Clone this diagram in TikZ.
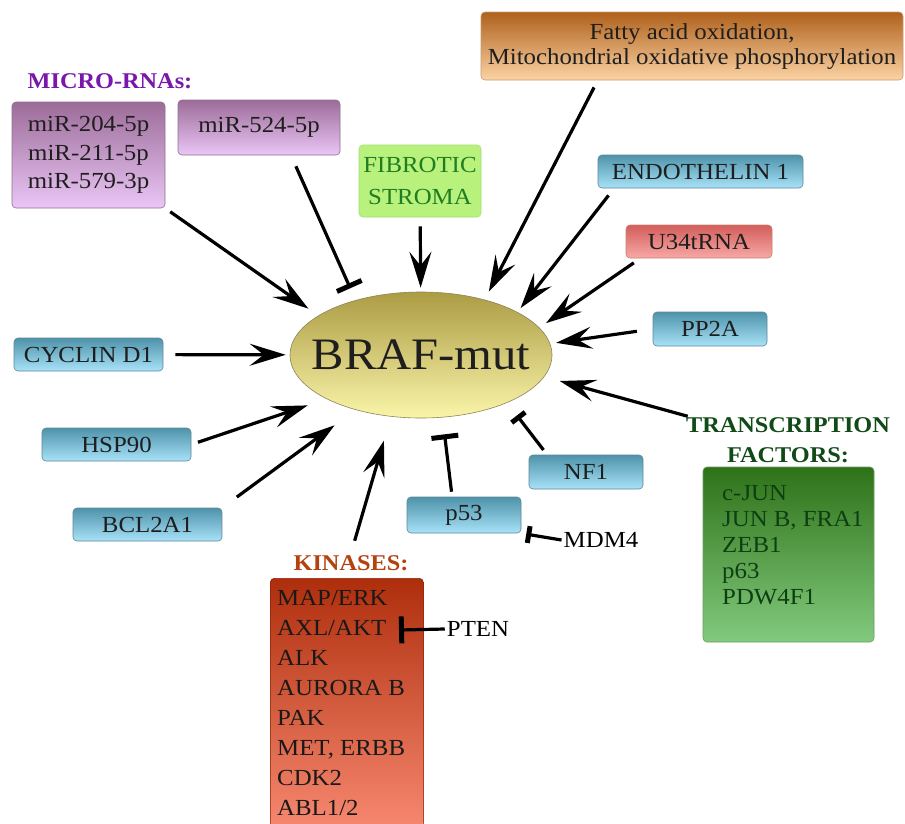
\documentclass[tikz,border=0pt]{standalone}
\usepackage{fontspec}
\setmainfont{Liberation Serif}[FakeStretch=1.08]
\usetikzlibrary{shapes.geometric,arrows.meta}

\definecolor{blueTop}{HTML}{4E93AA}
\definecolor{blueBot}{HTML}{A8E2F8}
\definecolor{blueLine}{HTML}{5F8796}
\definecolor{mirTop}{HTML}{9C6C98}
\definecolor{mirBot}{HTML}{EAC6F6}
\definecolor{mirLine}{HTML}{8E7090}
\definecolor{fibFill}{HTML}{B8F27C}
\definecolor{fibLine}{HTML}{A2DC74}
\definecolor{fibText}{HTML}{1F7D22}
\definecolor{fatTop}{HTML}{AF611C}
\definecolor{fatBot}{HTML}{FCD3A4}
\definecolor{fatLine}{HTML}{C89A70}
\definecolor{u34Top}{HTML}{D25E5C}
\definecolor{u34Bot}{HTML}{F8A8A6}
\definecolor{u34Line}{HTML}{C8806E}
\definecolor{brafTop}{HTML}{AC9C44}
\definecolor{brafBot}{HTML}{FAF5AA}
\definecolor{brafLine}{HTML}{8C8456}
\definecolor{kinTop}{HTML}{AE2E0C}
\definecolor{kinBot}{HTML}{FA8C74}
\definecolor{tfTop}{HTML}{2E7218}
\definecolor{tfBot}{HTML}{82CA7E}
\definecolor{microC}{HTML}{7A16AC}
\definecolor{kinC}{HTML}{B4420E}
\definecolor{tfC}{HTML}{104A16}
\definecolor{txtDark}{HTML}{1E1E1E}

\begin{document}
\begin{tikzpicture}[x=1pt,y=-1pt,
    box/.style={rounded corners=4pt, line width=0.6pt, inner sep=0pt,
      text=txtDark, font=\fontsize{23}{28.5}\selectfont},
    bluebox/.style={box, top color=blueTop, bottom color=blueBot, draw=blueLine},
    mirbox/.style={box, top color=mirTop, bottom color=mirBot, draw=mirLine},
    title/.style={font=\fontsize{22.5}{30}\selectfont\bfseries, inner sep=2pt},
    plain/.style={font=\fontsize{23}{28}\selectfont, inner sep=2pt},
    act/.style={line width=3.2pt, -{Stealth[length=36pt,width=22pt,inset=14pt]}},
    inh/.style={line width=3.2pt, -{Bar[width=27pt,line width=5pt]}},
    inhsmall/.style={line width=3.2pt, -{Bar[width=17pt,line width=5pt]}}]
  \path[fill=white] (0,0) rectangle (905,823);
  \useasboundingbox (0,0) rectangle (905,823);

  % centre
  \node[ellipse, minimum width=262pt, minimum height=126pt, inner xsep=-30pt, inner ysep=-10pt,
    top color=brafTop, bottom color=brafBot, draw=brafLine, line width=0.6pt,
    text=txtDark, font=\fontsize{45}{45}\selectfont] (braf) at (421,355) {BRAF-mut};

  % micro-RNAs
  \node[title, text=microC] (mirtitle) at (110,81) {MICRO-RNAs:};
  \node[mirbox, minimum width=153pt, minimum height=106pt, align=center]
    (mirA) at (88.5,155) {miR-204-5p\\miR-211-5p\\miR-579-3p};
  \node[mirbox, minimum width=162pt, minimum height=55pt] (mirB) at (259,127.5) {miR-524-5p};

  % upper boxes
  \node[box, fill=fibFill, draw=fibLine, text=fibText, minimum width=122pt,
    minimum height=72pt, align=center, font=\fontsize{23}{32}\selectfont]
    (fib) at (420,181) {FIBROTIC\\STROMA};
  \node[box, top color=fatTop, bottom color=fatBot, draw=fatLine, minimum width=422pt,
    minimum height=68pt, align=center, font=\fontsize{23}{25}\selectfont]
    (fatty) at (692,46) {Fatty acid oxidation,\\Mitochondrial oxidative phosphorylation};
  \node[bluebox, minimum width=205pt, minimum height=33pt] (endo) at (700.5,171.5) {ENDOTHELIN 1};
  \node[box, top color=u34Top, bottom color=u34Bot, draw=u34Line, minimum width=146pt,
    minimum height=33pt] (u34) at (699,241.5) {U34tRNA};
  \node[bluebox, minimum width=114pt, minimum height=34pt] (pp2a) at (710,329) {PP2A};

  % left boxes
  \node[bluebox, minimum width=149pt, minimum height=33pt] (cyclin) at (88.5,354.5) {CYCLIN D1};
  \node[bluebox, minimum width=149pt, minimum height=33pt] (hsp) at (116.5,444.5) {HSP90};
  \node[bluebox, minimum width=149pt, minimum height=33pt] (bcl) at (147.5,524.5) {BCL2A1};

  % lower boxes
  \node[bluebox, minimum width=114pt, minimum height=36pt] (p53) at (464,515) {p53};
  \node[bluebox, minimum width=114pt, minimum height=34pt] (nf1) at (586,472) {NF1};
  \node[plain] (mdm4) at (601,540) {MDM4};

  % kinases
  \node[title, text=kinC] (kintitle) at (351,563) {KINASES:};
  \node[box, top color=kinTop, bottom color=kinBot, draw=kinTop!80!black, anchor=north west,
    minimum width=153pt, minimum height=262pt] (kin) at (270,578) {};
  \node[anchor=west, align=left, inner sep=0pt, text=black!90, font=\fontsize{23}{30}\selectfont]
    (kinlist) at (277,703)
    {MAP/ERK\\AXL/AKT\\ALK\\AURORA B\\PAK\\MET, ERBB\\CDK2\\ABL1/2};
  \coordinate (axl) at (399,630);
  \node[plain] (pten) at (478,629) {PTEN};

  % transcription factors
  \node[title, text=tfC, align=center] (tftitle) at (788,440) {TRANSCRIPTION\\FACTORS:};
  \node[box, top color=tfTop, bottom color=tfBot, draw=tfTop!70, minimum width=171pt,
    minimum height=175pt] (tf) at (788.5,554.5) {};
  \node[anchor=west, align=left, inner sep=0pt, text=tfC!85!black,
    font=\fontsize{23}{26}\selectfont] (tflist) at (722,545)
    {c-JUN\\JUN B, FRA1\\ZEB1\\p63\\PDW4F1};

  % connectors
  \draw[act, shorten <=6pt, shorten >=12pt] (mirA.south east) -- (braf.159);
  \draw[inh, shorten <=12pt, shorten >=13pt] (mirB.-41.6) -- (braf.140);
  \draw[act, shorten <=9pt, shorten >=4pt] (fib) -- (braf);
  \draw[act, shorten <=8pt, shorten >=9pt] (fatty.200) -- (braf.41);
  \draw[act, shorten <=9pt, shorten >=5pt] (endo.191) -- (braf.24);
  \draw[act, shorten <=8pt, shorten >=8pt] (u34.196) -- (braf.13);
  \draw[act, shorten <=16pt, shorten >=6pt] (pp2a.west) -- (braf.5.5);
  \draw[act, shorten <=-4pt, shorten >=16pt] (tftitle.north west) -- (braf.-10);
  \draw[act, shorten <=12pt, shorten >=4pt] (cyclin) -- (braf);
  \draw[act, shorten <=7pt, shorten >=20pt] (hsp.east) -- (braf.205);
  \draw[act, shorten <=18pt, shorten >=26pt] (bcl.north east) -- (braf.220);
  \draw[act, shorten <=13pt, shorten >=25pt] (kintitle.north) -- (braf.244);
  \draw[inh, shorten <=5pt, shorten >=17pt] (p53.123.7) -- (braf.-71);
  \draw[inhsmall, shorten <=6pt, shorten >=16pt] (nf1.156) -- (braf.-29);
  \draw[inhsmall, shorten >=5pt] (mdm4.west) -- (p53.south east);
  \draw[inh] (pten.west) -- (axl);
\end{tikzpicture}
\end{document}
